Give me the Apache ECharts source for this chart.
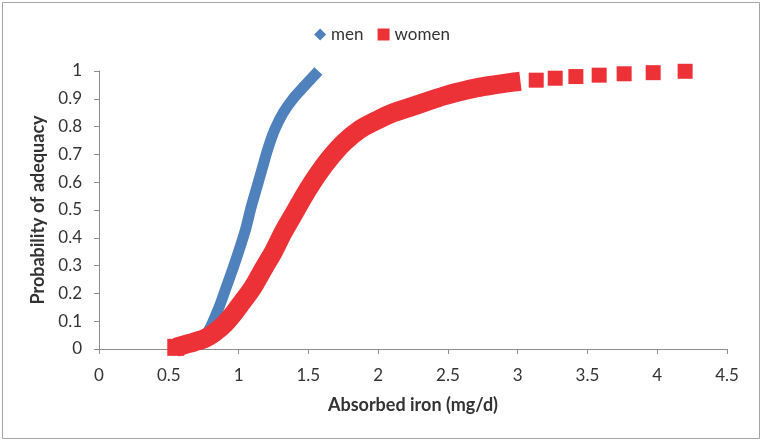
<!DOCTYPE html>
<html>
<head>
<meta charset="utf-8">
<script src="https://cdn.jsdelivr.net/npm/echarts@6/dist/echarts.min.js"></script>
<style>
  html, body { margin: 0; padding: 0; background: #fff; }
  #chart { width: 764px; height: 443px; }
</style>
</head>
<body>
<div id="chart"></div>
<script>
  // values
  const menCurve = [
    [0.76, 0.045], [0.80, 0.08], [0.86, 0.15], [0.91, 0.22], [0.96, 0.29],
    [1.00, 0.35], [1.05, 0.43], [1.09, 0.51], [1.13, 0.58], [1.17, 0.65],
    [1.21, 0.72], [1.26, 0.79], [1.32, 0.85], [1.39, 0.90], [1.47, 0.945],
    [1.572, 1.0]
  ];
  const womenCurve = [
    [0.55, 0.006], [0.61, 0.015], [0.68, 0.025], [0.76, 0.038], [0.83, 0.06],
    [0.90, 0.09], [0.96, 0.125], [1.02, 0.165], [1.10, 0.22], [1.18, 0.29],
    [1.25, 0.35], [1.32, 0.42], [1.40, 0.49], [1.48, 0.56], [1.57, 0.63],
    [1.66, 0.69], [1.76, 0.745], [1.87, 0.79], [2.00, 0.825], [2.11, 0.85],
    [2.23, 0.87], [2.35, 0.89], [2.47, 0.91], [2.59, 0.926], [2.71, 0.94],
    [2.83, 0.95], [2.94, 0.958], [3.02, 0.963]
  ];
  const womenTail = [
    [3.133, 0.967], [3.269, 0.974], [3.417, 0.98], [3.584, 0.985],
    [3.763, 0.99], [3.971, 0.994], [4.20, 0.999]
  ];
  const seriesNames = ['men', 'women'];

  const axisGrey = '#8c8c8c';
  const font = 'Lato, "Open Sans", sans-serif';
  const red = '#ed3237';
  const blue = '#4f81bd';

  let chart = echarts.init(document.getElementById('chart'));
  chart.setOption({
    animation: false,
    textStyle: { fontFamily: font },
    graphic: [{
      type: 'rect',
      shape: { x: 2.5, y: 2.5, width: 757, height: 436 },
      style: { fill: 'none', stroke: '#a6a6a6', lineWidth: 1 }
    }],
    legend: {
      top: 21,
      left: 'center',
      itemGap: 14,
      itemWidth: 12,
      itemHeight: 12,
      textStyle: { fontSize: 17, color: '#333', fontFamily: font },
      data: [
        { name: seriesNames[0], icon: 'diamond' },
        { name: seriesNames[1], icon: 'rect' }
      ]
    },
    grid: { left: 99, right: 37, top: 71, bottom: 94 },
    xAxis: {
      type: 'value',
      min: 0, max: 4.5, interval: 0.5,
      name: 'Absorbed iron (mg/d)',
      nameLocation: 'middle',
      nameGap: 47,
      nameTextStyle: { fontSize: 18, fontWeight: 'bold', color: '#333' },
      axisLine: { lineStyle: { color: axisGrey } },
      axisTick: { show: true, length: 5, lineStyle: { color: axisGrey } },
      axisLabel: { fontSize: 17, color: '#333', margin: 18 },
      splitLine: { show: false }
    },
    yAxis: {
      type: 'value',
      min: 0, max: 1, interval: 0.1,
      name: 'Probability of adequacy',
      nameLocation: 'middle',
      nameGap: 52,
      nameTextStyle: { fontSize: 18, fontWeight: 'bold', color: '#333' },
      axisLine: { show: true, lineStyle: { color: axisGrey } },
      axisTick: { show: true, length: 5, lineStyle: { color: axisGrey } },
      axisLabel: { fontSize: 17, color: '#333', margin: 17 },
      splitLine: { show: false }
    },
    series: [
      {
        name: seriesNames[1],
        type: 'line',
        data: womenCurve,
        smooth: 0.3,
        // only the first point gets its square marker, the rest is the thick band
        symbol: (val, params) => params.dataIndex === 0 ? 'rect' : 'none',
        symbolSize: 17,
        showSymbol: true,
        itemStyle: { color: red, opacity: 1 },
        lineStyle: { color: red, width: 19, cap: 'butt' },
        z: 2
      },
      {
        name: seriesNames[1],
        type: 'scatter',
        data: womenTail,
        symbol: 'rect',
        symbolSize: 15,
        itemStyle: { color: red, opacity: 1 },
        z: 2
      },
      {
        name: seriesNames[0],
        type: 'line',
        data: menCurve,
        smooth: 0.3,
        symbol: 'diamond',
        symbolSize: 11,
        showSymbol: false,
        itemStyle: { color: blue },
        lineStyle: { color: blue, width: 11, cap: 'butt' },
        z: 1
      }
    ]
  });
</script>
</body>
</html>
